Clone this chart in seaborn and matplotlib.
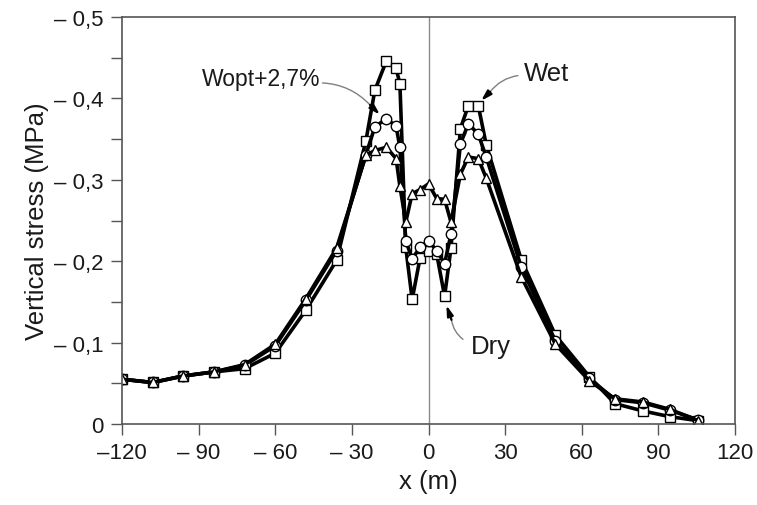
import matplotlib
matplotlib.use("Agg")
import matplotlib.pyplot as plt
import seaborn as sns
import numpy as np

# ---- data ----
x_m = [-120, -108, -96, -84, -72, -60, -48, -36, -24.5, -21, -16.5, -12.7, -11.2, -8.9,
       -6.4, -3.3, 0, 3.2, 6.3, 8.8, 12.5, 15.6, 19.5, 22.6, 36.3, 49.7, 63, 73, 84, 94.5, 105.7]

stress_square = [-0.055, -0.051, -0.059, -0.064, -0.068, -0.087, -0.140, -0.201, -0.348, -0.410,
                 -0.446, -0.437, -0.418, -0.217, -0.153, -0.204, -0.213, -0.209, -0.157, -0.216,
                 -0.363, -0.391, -0.391, -0.343, -0.202, -0.109, -0.058, -0.025, -0.016, -0.009, -0.004]

stress_circle = [-0.055, -0.051, -0.059, -0.064, -0.072, -0.096, -0.152, -0.213, -0.331, -0.365,
                 -0.375, -0.366, -0.340, -0.225, -0.203, -0.217, -0.225, -0.213, -0.197, -0.233,
                 -0.344, -0.369, -0.356, -0.328, -0.193, -0.102, -0.056, -0.030, -0.026, -0.017, -0.005]

stress_triangle = [-0.055, -0.051, -0.059, -0.064, -0.073, -0.098, -0.154, -0.216, -0.330, -0.336,
                   -0.340, -0.326, -0.292, -0.248, -0.283, -0.288, -0.295, -0.277, -0.276, -0.248,
                   -0.307, -0.328, -0.326, -0.302, -0.181, -0.098, -0.053, -0.031, -0.027, -0.018, -0.004]

x_ticks = [-120, -90, -60, -30, 0, 30, 60, 90, 120]
x_tick_labels = ["\u2013120", "\u2013 90", "\u2013 60", "\u2013 30", "0", "30", "60", "90", "120"]
y_ticks = [0, -0.1, -0.2, -0.3, -0.4, -0.5]
y_tick_labels = ["0", "\u2013 0,1", "\u2013 0,2", "\u2013 0,3", "\u2013 0,4", "\u2013 0,5"]

sns.set_style("ticks")
plt.rcParams["font.family"] = ["Liberation Sans", "DejaVu Sans"]

fig = plt.figure(figsize=(7.57, 5.06), dpi=100)
ax = fig.add_axes([122 / 757, 1 - 425 / 506, (735 - 122) / 757, (425 - 18) / 506])

ax.axvline(0, color="#8a8a8a", lw=1.0, zorder=0)

common = dict(color="black", linewidth=2.6, markersize=7.5, markerfacecolor="white",
              markeredgecolor="black", markeredgewidth=1.0, estimator=None, ax=ax, legend=False)
sns.lineplot(x=x_m, y=stress_square, marker="s", **common)
sns.lineplot(x=x_m, y=stress_circle, marker="o", **common)
sns.lineplot(x=x_m, y=stress_triangle, marker="^", **common)

ax.set_xlim(-120, 120)
ax.set_ylim(0, -0.5)
ax.set_xticks(x_ticks)
ax.set_xticklabels(x_tick_labels)
ax.set_yticks(y_ticks)
ax.set_yticklabels(y_tick_labels)
ax.set_yticks([-0.05, -0.15, -0.25, -0.35, -0.45], minor=True)

for sp in ax.spines.values():
    sp.set_color("#555555")
    sp.set_linewidth(1.2)
ax.tick_params(axis="both", which="both", direction="out", length=8, width=1.0,
               color="#555555", labelsize=16, labelcolor="#1a1a1a", pad=5)

ax.set_xlabel("x (m)", fontsize=18.5, color="#1a1a1a", labelpad=4)
ax.set_ylabel("Vertical stress (MPa)", fontsize=18.5, color="#1a1a1a", labelpad=4)

# ---- annotations ----
def label(text, tpos, start, mid, tip, rad, size):
    ax.text(tpos[0], tpos[1], text, fontsize=size, color="#1a1a1a", ha="center", va="center")
    ax.annotate("", xy=mid, xytext=start,
                arrowprops=dict(arrowstyle="-", color="#808080", lw=1.0,
                                connectionstyle=f"arc3,rad={rad}", shrinkA=0, shrinkB=0))
    ax.annotate("", xy=tip, xytext=mid,
                arrowprops=dict(arrowstyle="-|>,head_length=0.6,head_width=0.18", color="black",
                                lw=1.6, shrinkA=0, shrinkB=0))

label("Wopt+2,7%", (-65.6, -0.424), (-41.5, -0.419), (-22.9, -0.392), (-19.0, -0.380), -0.2, 16.5)
label("Wet", (46.3, -0.431), (35.0, -0.428), (24.1, -0.408), (20.6, -0.397), 0.2, 18.5)
label("Dry", (24.3, -0.096), (13.5, -0.104), (9.0, -0.128), (7.0, -0.146), -0.2, 18.5)

fig.savefig("out.png", dpi=100)
